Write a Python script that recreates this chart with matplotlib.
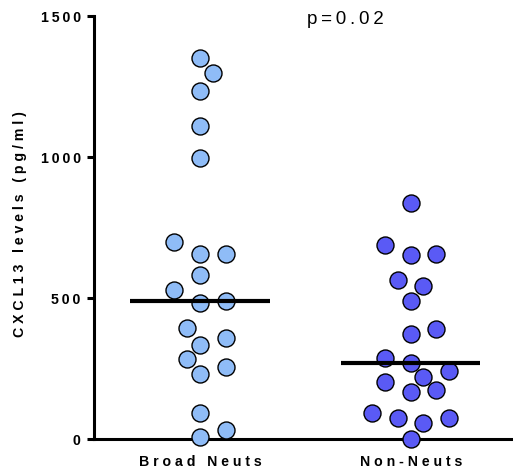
#!/usr/bin/env python3
"""CXCL13 levels scatter (Broad Neuts vs Non-Neuts) with median bars."""

import numpy as np
import matplotlib

matplotlib.use("Agg")
import matplotlib.pyplot as plt

# values (pg/ml)
groups = ["Broad Neuts", "Non-Neuts"]
broad_neuts = [1350, 1297, 1235, 1110, 998, 698, 656, 655, 582, 528, 491,
               484, 395, 358, 332, 285, 257, 231, 92, 32, 7]
non_neuts = [838, 688, 655, 654, 564, 541, 488, 391, 372, 286, 268, 242,
             220, 201, 175, 168, 92, 74, 74, 57, 0]
y_ticks = [0, 500, 1000, 1500]
p_label = "p=0.02"
y_label = "CXCL13 levels (pg/ml)"

colors = ["#8FBCF7", "#5A5AF5"]
DPI = 100
W, H = 513, 473
MARKER_D = 17.0   # marker diameter, px


def spaced(text, sep=" "):
    """Prism-like wide letter spacing."""
    return sep.join(text)


def swarm_offsets(values, ax, xpos):
    """Greedy beeswarm in pixel space, returns x positions in data units."""
    to_px = ax.transData
    step = MARKER_D * 0.75
    placed = []
    xs = np.empty(len(values))
    order = np.argsort(values)
    x0_px = to_px.transform((xpos, 0))[0]
    for i in order:
        y_px = to_px.transform((xpos, values[i]))[1]
        for k in [0, 1, -1, 2, -2, 3, -3, 4, -4, 5, -5]:
            cand = x0_px + k * step
            if all((cand - px) ** 2 + (y_px - py) ** 2 >= (MARKER_D * 1.05) ** 2
                   for px, py in placed):
                break
        placed.append((cand, y_px))
        xs[i] = to_px.inverted().transform((cand, y_px))[0]
    return xs


plt.rcParams["font.family"] = ["Liberation Sans", "DejaVu Sans"]

fig = plt.figure(figsize=(W / DPI, H / DPI), dpi=DPI)
ax = fig.add_axes([94 / W, 34 / H, (W - 94) / W, 423 / H])

unit = 210.7  # px between categories
ax.set_xlim(-(200 - 94) / unit, (W - 200) / unit)
ax.set_ylim(0, 1500)

for idx, (vals, col) in enumerate(zip([broad_neuts, non_neuts], colors)):
    vals = np.asarray(vals, dtype=float)
    xs = swarm_offsets(vals, ax, idx)
    ax.scatter(xs, vals, s=(MARKER_D * 72 / DPI) ** 2, color=col,
               edgecolor="black", linewidth=1.0, zorder=3, clip_on=False)
    med = np.median(vals)
    ax.plot([idx - 0.33, idx + 0.33], [med, med], color="black", lw=3.0,
            solid_capstyle="butt", zorder=4)

for side in ("top", "right"):
    ax.spines[side].set_visible(False)
for side in ("left", "bottom"):
    ax.spines[side].set_linewidth(2.2)

ax.set_yticks(y_ticks)
ax.set_yticklabels([spaced(str(t), "\u2009") for t in y_ticks], fontsize=10.2,
                   fontweight="bold")
ax.set_xticks(range(len(groups)))
ax.set_xticklabels([spaced(g) for g in groups], fontsize=10.2,
                   fontweight="bold")
ax.tick_params(axis="y", direction="out", length=5, width=2.2, pad=4.5)
ax.tick_params(axis="x", direction="out", length=4, width=2.2, pad=7.5)

fig.text(20.5 / W, 1 - 224 / H, spaced(y_label), rotation=90, ha="center",
         va="center", fontsize=10.2, fontweight="bold")
fig.text(345 / W, 1 - 19 / H, spaced(p_label, "\u2009"), ha="center",
         va="center", fontsize=13.5)

fig.savefig("out.png", dpi=DPI)
